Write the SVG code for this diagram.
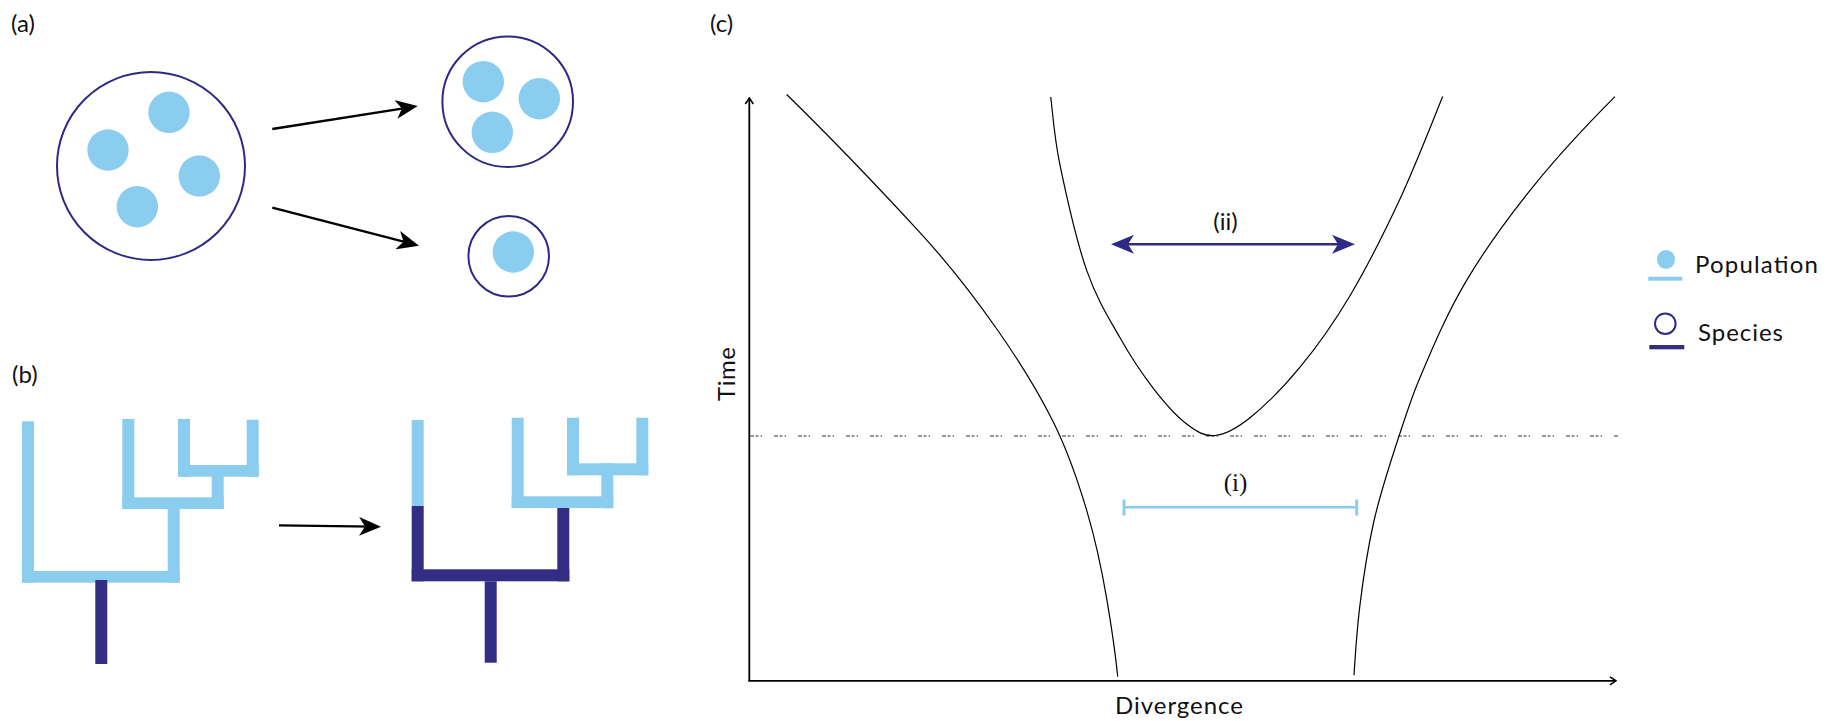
<svg xmlns="http://www.w3.org/2000/svg" width="1832" height="721" viewBox="0 0 1832 721">
<style>
.lbl{font-family:Lato,"Liberation Sans",sans-serif;font-size:24px;fill:#111}
.species{fill:none;stroke:#2e2a83;stroke-width:2}
.pop{fill:#8acdee}
.lt{fill:#8acdee}
.dk{fill:#332e83}
.arr{stroke:#000;stroke-width:2.3;fill:none}
.curve{stroke:#000;stroke-width:1.2;fill:none}
.axis{stroke:#000;stroke-width:1.8;fill:none}
</style>
<defs>
<marker id="stealth" viewBox="0 0 22 19" refX="14" refY="9.5" markerWidth="22" markerHeight="19" markerUnits="userSpaceOnUse" orient="auto">
<path d="M0,0 L22,9.5 L0,19 L6,9.5 z" fill="#000"/>
</marker>
<marker id="stealthNavy" viewBox="0 0 23 19" refX="15" refY="9.5" markerWidth="23" markerHeight="19" markerUnits="userSpaceOnUse" orient="auto-start-reverse">
<path d="M0,0 L23,9.5 L0,19 L6,9.5 z" fill="#2e2a85"/>
</marker>
<marker id="open" viewBox="0 0 8 10" refX="7" refY="5" markerWidth="8" markerHeight="10" markerUnits="userSpaceOnUse" orient="auto">
<path d="M1,1 L7,5 L1,9" fill="none" stroke="#000" stroke-width="1.6"/>
</marker>
</defs>

<g id="labels">
<text class="lbl" x="11" y="32">(a)</text>
<text class="lbl" x="12" y="383">(b)</text>
<text class="lbl" x="710" y="32">(c)</text>
</g>

<!-- Panel (a) -->
<g id="species-big">
<circle class="species" cx="151" cy="166" r="94"/>
<circle class="pop" cx="169" cy="112.3" r="20.7"/>
<circle class="pop" cx="108" cy="150" r="20.7"/>
<circle class="pop" cx="199.3" cy="176" r="20.7"/>
<circle class="pop" cx="137.3" cy="206.7" r="20.7"/>
</g>
<g id="species-upper">
<circle class="species" cx="507.7" cy="101.7" r="65.3"/>
<circle class="pop" cx="483.3" cy="81.7" r="20.7"/>
<circle class="pop" cx="539.3" cy="98.7" r="20.7"/>
<circle class="pop" cx="492.3" cy="132.3" r="20.7"/>
</g>
<g id="species-lower">
<circle class="species" cx="508.7" cy="256.3" r="40.3"/>
<circle class="pop" cx="513.3" cy="252" r="20.7"/>
</g>

<!-- Panel (b) -->
<g id="tree-before">
<rect class="lt" x="22" y="421.3" width="12" height="161.4"/>
<rect class="lt" x="22" y="571" width="157.7" height="11.7"/>
<rect class="lt" x="167.7" y="509" width="12" height="73.7"/>
<rect class="lt" x="122.3" y="497.3" width="101.4" height="11.7"/>
<rect class="lt" x="122.3" y="419" width="12" height="90"/>
<rect class="lt" x="211.7" y="465" width="12" height="44"/>
<rect class="lt" x="178" y="465" width="80.7" height="11.7"/>
<rect class="lt" x="178" y="419" width="12" height="57.7"/>
<rect class="lt" x="246.7" y="419.7" width="12" height="57"/>
<rect class="dk" x="95.3" y="580" width="12" height="84"/>
</g>
<g id="tree-after">
<rect class="lt" x="411.7" y="420" width="12" height="86"/>
<rect class="dk" x="411.7" y="506" width="12" height="75.3"/>
<rect class="dk" x="411.7" y="569.3" width="157.6" height="12"/>
<rect class="dk" x="557.3" y="508" width="12" height="73.3"/>
<rect class="dk" x="484.7" y="581.3" width="12" height="81.4"/>
<rect class="lt" x="511.7" y="496.3" width="101.6" height="11.7"/>
<rect class="lt" x="511.7" y="417.7" width="12" height="90.3"/>
<rect class="lt" x="601.3" y="463.3" width="12" height="45"/>
<rect class="lt" x="567" y="463.3" width="81.3" height="12"/>
<rect class="lt" x="567" y="417.7" width="12" height="57.6"/>
<rect class="lt" x="636.3" y="417.7" width="12" height="57.6"/>
</g>

<!-- Panel (c) -->
<g id="axes">
<line class="axis" x1="749.3" y1="681" x2="749.3" y2="98" marker-end="url(#open)"/>
<line class="axis" x1="748.4" y1="680.8" x2="1616" y2="680.8" marker-end="url(#open)"/>
<text class="lbl" font-size="25" transform="translate(735,374) rotate(-90)" text-anchor="middle" textLength="54" lengthAdjust="spacing">Time</text>
<text class="lbl" font-size="25" x="1115" y="714" textLength="128" lengthAdjust="spacing">Divergence</text>
</g>
<line id="threshold" x1="750" y1="436" x2="1618" y2="436" stroke="#7a7a7a" stroke-width="1.3" stroke-dasharray="4 1.5 3 2 1.5 12"/>

<g id="curves">
<path class="curve" d="M786.7,94.5 C833.65,140.5 877.65,186.6 920,232.6 C949.9,265.1 974.8,297.5 997.5,330 C1019,360.7 1038,391.3 1053.3,422 C1068,451.4 1077.9,480.9 1086.7,510.3 C1095.5,539.8 1101.7,569.2 1106.7,598.7 C1111.1,624.7 1115.1,650.6 1117.7,676.6"/>
<path class="curve" d="M1050.7,97 C1052.3,108.4 1054,136.3 1060,165.2 C1066,194.1 1076.7,241.6 1086.7,270.4 C1096.7,299.2 1108.9,318.2 1120,337.8 C1131.1,357.5 1142.2,373.9 1153.3,388.3 C1164.4,402.7 1176.4,416.1 1186.7,424 C1197,431.9 1204.5,436.5 1215,435.5 C1225.5,434.4 1235.8,429.1 1250,417.7 C1264.2,406.3 1283.3,387.5 1300,367.2 C1316.7,346.9 1333.3,323.8 1350,295.7 C1366.7,267.6 1384.5,232.1 1400,198.9 C1415.5,165.7 1435.6,113.7 1442.7,96.6"/>
<path class="curve" d="M1615,96.6 C1585.1,126.5 1557.5,156.4 1533.3,186.3 C1508.3,217.2 1486,248 1467.5,278.9 C1447.3,312.6 1433.1,346.2 1419,379.9 C1411.3,398.1 1405.5,416.4 1399.5,434.6 C1389.8,464.1 1380,493.5 1373.5,523 C1367.3,551 1363.1,579.1 1359.7,607.1 C1357,629.8 1355.4,652.6 1354,675.3"/>
</g>

<g id="measure-ii">
<line x1="1119" y1="244.3" x2="1347" y2="244.3" stroke="#2e2a85" stroke-width="2.4" marker-start="url(#stealthNavy)" marker-end="url(#stealthNavy)"/>
<text class="lbl" x="1225.5" y="230" text-anchor="middle">(ii)</text>
</g>
<g id="measure-i" stroke="#8acdee">
<line x1="1124" y1="507.3" x2="1356.7" y2="507.3" stroke-width="2.6"/>
<line x1="1124" y1="499.5" x2="1124" y2="515.5" stroke-width="3"/>
<line x1="1356.7" y1="499.5" x2="1356.7" y2="515.5" stroke-width="3"/>
<text x="1235.5" y="491" text-anchor="middle" stroke="none" fill="#111" font-family="'Liberation Serif',serif" font-size="25">(i)</text>
</g>

<g id="legend">
<g id="legend-population">
<ellipse class="pop" cx="1666" cy="259.5" rx="9" ry="9.5"/>
<rect class="lt" x="1648.3" y="276.7" width="34" height="4"/>
<text class="lbl" x="1695" y="273" font-size="26" textLength="123" lengthAdjust="spacing">Population</text>
</g>
<g id="legend-species">
<circle class="species" cx="1665.3" cy="323.7" r="10.3"/>
<rect class="dk" x="1649.3" y="345" width="35" height="4.3"/>
<text class="lbl" x="1698" y="341" font-size="26" textLength="85" lengthAdjust="spacing">Species</text>
</g>
</g>

<g id="connectors">
<line class="arr" x1="272.3" y1="129" x2="409.8" y2="107.3" marker-end="url(#stealth)"/>
<line class="arr" x1="272.3" y1="207.7" x2="411.3" y2="243.7" marker-end="url(#stealth)"/>
<line class="arr" x1="279" y1="525.3" x2="373" y2="526.6" marker-end="url(#stealth)"/>
</g>
</svg>
